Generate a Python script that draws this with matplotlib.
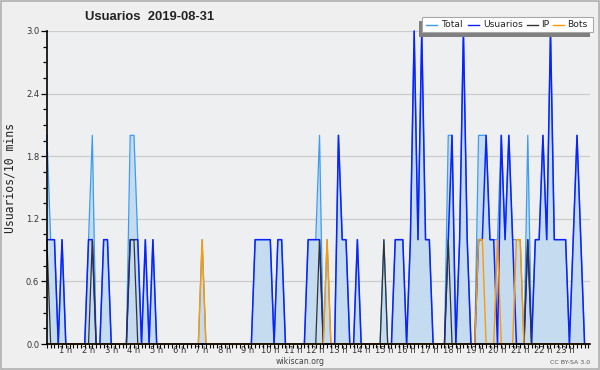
import matplotlib
matplotlib.use("Agg")
import matplotlib.pyplot as plt
from matplotlib.patches import Rectangle
from matplotlib.lines import Line2D

W, H = 600, 370


def fx(x):
    return x / W


def fy(y):
    return 1 - y / H


# one value per 10 minutes, 6 per hour, 24 hours
total = [2, 1, 1, 0, 1, 0,  0, 0, 0, 0, 0, 1,  2, 0, 0, 1, 1, 0,  0, 0, 0, 0, 2, 2,
         1, 0, 1, 0, 1, 0,  0, 0, 0, 0, 0, 0,  0, 0, 0, 0, 0, 1,  0, 0, 0, 0, 0, 0,
         0, 0, 0, 0, 0, 0,  0, 1, 1, 1, 1, 1,  0, 1, 1, 0, 0, 0,  0, 0, 0, 1, 1, 1,
         2, 0, 1, 0, 0, 2,  1, 1, 0, 0, 1, 0,  0, 0, 0, 0, 0, 1,  0, 0, 1, 1, 1, 0,
         1, 3, 1, 3, 1, 1,  0, 0, 0, 0, 2, 2,  0, 1, 3, 1, 0, 0,  2, 2, 2, 1, 1, 1,
         2, 1, 2, 1, 1, 1,  0, 2, 0, 1, 1, 2,  1, 3, 1, 1, 1, 1,  0, 1, 2, 1, 0, 0]

usuarios = [1, 1, 1, 0, 1, 0,  0, 0, 0, 0, 0, 1,  1, 0, 0, 1, 1, 0,  0, 0, 0, 0, 1, 1,
            1, 0, 1, 0, 1, 0,  0, 0, 0, 0, 0, 0,  0, 0, 0, 0, 0, 0,  0, 0, 0, 0, 0, 0,
            0, 0, 0, 0, 0, 0,  0, 1, 1, 1, 1, 1,  0, 1, 1, 0, 0, 0,  0, 0, 0, 1, 1, 1,
            1, 0, 0, 0, 0, 2,  1, 1, 0, 0, 1, 0,  0, 0, 0, 0, 0, 0,  0, 0, 1, 1, 1, 0,
            1, 3, 1, 3, 1, 1,  0, 0, 0, 0, 1, 2,  0, 1, 3, 1, 0, 0,  1, 1, 2, 1, 1, 0,
            2, 1, 2, 1, 0, 0,  0, 1, 0, 1, 1, 2,  1, 3, 1, 1, 1, 1,  0, 1, 2, 1, 0, 0]

ip = [1, 0, 0, 0, 0, 0,  0, 0, 0, 0, 0, 0,  1, 0, 0, 0, 0, 0,  0, 0, 0, 0, 1, 1,
      0, 0, 0, 0, 0, 0,  0, 0, 0, 0, 0, 0,  0, 0, 0, 0, 0, 0,  0, 0, 0, 0, 0, 0,
      0, 0, 0, 0, 0, 0,  0, 0, 0, 0, 0, 0,  0, 0, 0, 0, 0, 0,  0, 0, 0, 0, 0, 0,
      1, 0, 0, 0, 0, 0,  0, 0, 0, 0, 0, 0,  0, 0, 0, 0, 0, 1,  0, 0, 0, 0, 0, 0,
      0, 0, 0, 0, 0, 0,  0, 0, 0, 0, 1, 0,  0, 0, 0, 0, 0, 0,  0, 0, 0, 0, 0, 0,
      0, 0, 0, 0, 0, 0,  0, 1, 0, 0, 0, 0,  0, 0, 0, 0, 0, 0,  0, 0, 0, 0, 0, 0]

bots = [0, 0, 0, 0, 0, 0,  0, 0, 0, 0, 0, 0,  0, 0, 0, 0, 0, 0,  0, 0, 0, 0, 0, 0,
        0, 0, 0, 0, 0, 0,  0, 0, 0, 0, 0, 0,  0, 0, 0, 0, 0, 1,  0, 0, 0, 0, 0, 0,
        0, 0, 0, 0, 0, 0,  0, 0, 0, 0, 0, 0,  0, 0, 0, 0, 0, 0,  0, 0, 0, 0, 0, 0,
        0, 0, 1, 0, 0, 0,  0, 0, 0, 0, 0, 0,  0, 0, 0, 0, 0, 0,  0, 0, 0, 0, 0, 0,
        0, 0, 0, 0, 0, 0,  0, 0, 0, 0, 0, 0,  0, 0, 0, 0, 0, 0,  1, 1, 0, 0, 0, 1,
        0, 0, 0, 0, 1, 1,  0, 0, 0, 0, 0, 0,  0, 0, 0, 0, 0, 0,  0, 0, 0, 0, 0, 0]

hour_labels = ['1 h', '2 h', '3 h', '4 h', '5 h', '6 h', '7 h', '8 h', '9 h', '10 h',
               '11 h', '12 h', '13 h', '14 h', '15 h', '16 h', '17 h', '18 h', '19 h',
               '20 h', '21 h', '22 h', '23 h']
y_ticks = [0.0, 0.6, 1.2, 1.8, 2.4, 3.0]

c_total = '#3d9cf2'
c_user = '#0b22ff'
c_ip = '#333333'
c_bots = '#ff9900'
c_fill = '#c5dcf0'

x = list(range(len(total)))

fig = plt.figure(figsize=(W / 100, H / 100), dpi=100, facecolor='#efefef')
ax = fig.add_axes([fx(46.5), fy(344), (589.5 - 46.5) / W, (344 - 31) / H])
ax.set_facecolor('#eeeff1')

ax.fill_between(x, total, 0, color=c_fill, lw=0, zorder=2)
ax.plot(x, total, color=c_total, lw=0.9, zorder=3, clip_on=False)
ax.plot(x, usuarios, color=c_user, lw=1.1, zorder=4, clip_on=False)
ax.plot(x, ip, color=c_ip, lw=0.9, zorder=5, clip_on=False)
ax.plot(x, bots, color=c_bots, lw=1.0, zorder=6, clip_on=False)

ax.set_xlim(-0.1, 143.3)
ax.set_ylim(0, 3)

for s in ['top', 'right']:
    ax.spines[s].set_visible(False)
for s in ['left', 'bottom']:
    ax.spines[s].set_color('black')
    ax.spines[s].set_linewidth(1.2)
    ax.spines[s].set_zorder(7)

ax.set_yticks(y_ticks)
ax.set_yticklabels(['%.1f' % v for v in y_ticks])
ax.set_yticks([0.15 * k for k in range(21)], minor=True)
ax.yaxis.grid(True, color='#cccccc', lw=0.9)
ax.set_axisbelow(True)

ax.set_xticks([6 * h - 1 for h in range(1, 24)])
ax.set_xticklabels(hour_labels)
ax.set_xticks(x, minor=True)

ax.tick_params(axis='y', which='major', length=4.3, width=0.9, pad=1,
               labelsize=6, labelcolor='#333333')
ax.tick_params(axis='y', which='minor', length=2.9, width=0.9)
ax.tick_params(axis='x', which='both', length=2.9, width=0.8, pad=-1.6,
               labelsize=6, labelcolor='#333333')

# title, axis label, footer
fig.text(fx(85), fy(17), 'Usuarios  2019-08-31', family='Liberation Sans',
         fontweight='bold', fontsize=9.4, color='#222222', ha='left', va='center')
fig.text(fx(10), fy(178), 'Usuarios/10 mins', family='DejaVu Sans Mono',
         fontsize=8.3, color='#222222', rotation=90, ha='center', va='center')
fig.text(fx(300), fy(361), 'wikiscan.org', fontsize=5.6, color='#444444',
         ha='center', va='center')
fig.text(fx(590), fy(363), 'CC BY-SA 3.0', fontsize=4.5, color='#555555',
         ha='right', va='center')

# legend with shadow
fig.add_artist(Rectangle((fx(419), fy(36.7)), 171 / W, 16 / H, transform=fig.transFigure,
                         facecolor='#808080', edgecolor='none'))
fig.add_artist(Rectangle((fx(422), fy(32.3)), 171 / W, 15 / H, transform=fig.transFigure,
                         facecolor='white', edgecolor='#a8a8a8', lw=0.8))
entries = [('Total', c_total, 426, 442), ('Usuarios', c_user, 468, 483.5),
           ('IP', c_ip, 527, 541.5), ('Bots', c_bots, 552.5, 567.5)]
for name, col, lx, tx in entries:
    fig.add_artist(Line2D([fx(lx), fx(lx + 11)], [fy(24.6), fy(24.6)], color=col, lw=1.0,
                          transform=fig.transFigure))
    fig.text(fx(tx), fy(24.8), name, fontsize=6.6, color='#222222', ha='left', va='center')

# outer border
fig.add_artist(Rectangle((0.6 / W, 0.6 / H), 1 - 1.2 / W, 1 - 1.2 / H, transform=fig.transFigure,
                         fill=False, edgecolor='#b0b0b0', lw=1.2))

fig.savefig('out.png', dpi=100, facecolor=fig.get_facecolor())
